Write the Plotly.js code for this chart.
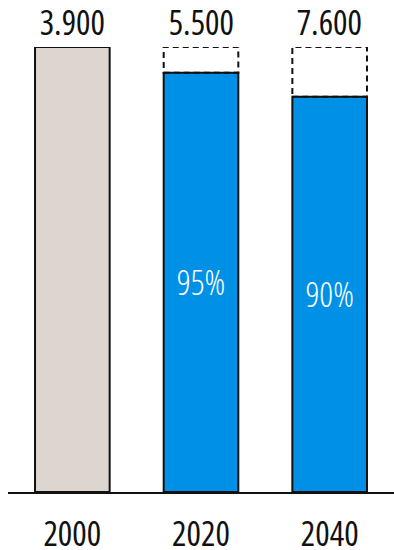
<!DOCTYPE html>
<html>
<head>
<meta charset="utf-8">
<script src="https://cdn.plot.ly/plotly-3.0.1.min.js"></script>
<style>
html,body{margin:0;padding:0;background:#fff;}
#chart{width:394px;height:550px;}
#chart svg text{font-stretch:75% !important;}
</style>
</head>
<body>
<div id="chart"></div>
<script>
// Data
const years = ["2000", "2020", "2040"];
const totals = ["3.900", "5.500", "7.600"];        // labels above bars
const shares = [100, 94.2, 88.8];                  // bar heights (% of full)
const shareLabels = ["", "95%", "90%"];
const fullLevel = [100, 100, 100];
const barColors = ["#DDD6D0", "#0091E6", "#0091E6"];

const FONT = "'Open Sans', sans-serif";
const barWidth = 0.58;

const traces = [{
  type: "bar",
  x: years,
  y: shares,
  width: barWidth,
  marker: { color: barColors, line: { color: "#111", width: 2 } },
  text: shareLabels,
  textposition: "inside",
  insidetextanchor: "middle",
  textfont: { family: FONT, size: 34, color: "#fff", weight: 300 },
  constraintext: "none",
  hoverinfo: "none",
  cliponaxis: false
}];

const shapes = [];
years.forEach((yr, i) => {
  if (shares[i] < fullLevel[i]) {
    shapes.push({
      type: "rect", xref: "x", yref: "y",
      x0: i - barWidth / 2, x1: i + barWidth / 2,
      y0: shares[i], y1: fullLevel[i],
      line: { color: "#111", width: 2, dash: "6px,4px" },
      fillcolor: "rgba(0,0,0,0)",
      layer: "above"
    });
  }
});

const annotations = years.map((yr, i) => ({
  x: i, y: fullLevel[i], xref: "x", yref: "y",
  text: totals[i], showarrow: false,
  yanchor: "bottom", yshift: 0,
  font: { family: FONT, size: 34, color: "#111", weight: 500 }
}));

const layout = {
  width: 394, height: 550,
  margin: { l: 8, r: 0, t: 47, b: 58 },
  paper_bgcolor: "#fff", plot_bgcolor: "#fff",
  showlegend: false,
  xaxis: {
    type: "category",
    range: [-0.5, 2.5],
    showline: true, linecolor: "#111", linewidth: 2,
    ticks: "", showgrid: false, zeroline: false,
    tickfont: { family: FONT, size: 34, color: "#111", weight: 400 },
    ticklabelstandoff: 11
  },
  yaxis: {
    range: [0, 100],
    visible: false, showgrid: false, zeroline: false
  },
  shapes: shapes,
  annotations: annotations
};

Plotly.newPlot("chart", traces, layout, { displayModeBar: false, staticPlot: true });
</script>
</body>
</html>
